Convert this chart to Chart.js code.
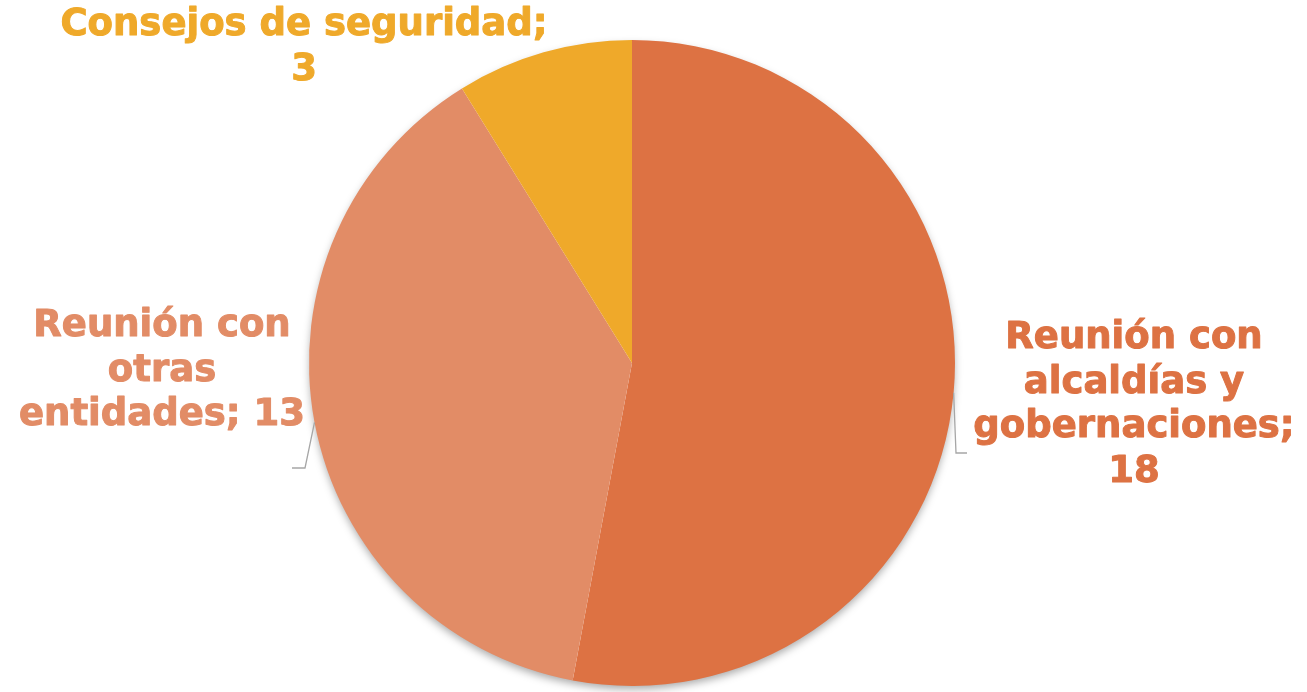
<!DOCTYPE html>
<html lang="es">
<head>
<meta charset="UTF-8">
<title>Pie</title>
<script src="https://cdn.jsdelivr.net/npm/chart.js"></script>
<style>
  * { margin: 0; padding: 0; box-sizing: border-box; }
  body { width: 1307px; height: 692px; background: #ffffff; overflow: hidden; }
  #wrap { width: 1307px; height: 692px; position: relative; }
</style>
</head>
<body>
<div id="wrap"><canvas id="chart"></canvas></div>
<script>
  // datos
  const categories = ['Reunión con alcaldías y gobernaciones', 'Reunión con otras entidades', 'Consejos de seguridad'];
  const values = [18, 13, 3];
  const labelLines = [
    ['Reunión con', 'alcaldías y', 'gobernaciones;', '18'],
    ['Reunión con', 'otras', 'entidades; 13'],
    ['Consejos de seguridad;', '3']
  ];
  const colors = ['#DD7243', '#E28C66', '#EFA92A'];

  // posición de las etiquetas (centro x, línea base de la primera línea) y codo de la línea guía
  const labelPos = [
    { x: 1134, y: 348, elbow: [956, 453], end: [967, 453] },
    { x: 162, y: 336, elbow: [305, 468], end: [292, 468] },
    { x: 304, y: 35, elbow: null, end: null }
  ];

  const shadowPlugin = {
    id: 'pieShadow',
    beforeDatasetsDraw(chart) {
      const arc = chart.getDatasetMeta(0).data[0];
      if (!arc) return;
      const ctx = chart.ctx;
      ctx.save();
      ctx.shadowColor = 'rgba(0,0,0,0.35)';
      ctx.shadowBlur = 9;
      ctx.shadowOffsetY = 4;
      ctx.fillStyle = '#ffffff';
      ctx.beginPath();
      ctx.arc(arc.x, arc.y, arc.outerRadius - 1, 0, Math.PI * 2);
      ctx.fill();
      ctx.restore();
    }
  };

  const labelPlugin = {
    id: 'pieLabels',
    afterDatasetsDraw(chart) {
      const ctx = chart.ctx;
      const meta = chart.getDatasetMeta(0);
      ctx.save();
      meta.data.forEach((arc, i) => {
        const p = labelPos[i];
        if (p.elbow) {
          const mid = (arc.startAngle + arc.endAngle) / 2;
          const sx = arc.x + Math.cos(mid) * arc.outerRadius;
          const sy = arc.y + Math.sin(mid) * arc.outerRadius;
          ctx.strokeStyle = '#a6a6a6';
          ctx.lineWidth = 1.3;
          ctx.beginPath();
          ctx.moveTo(sx, sy);
          ctx.lineTo(p.elbow[0], p.elbow[1]);
          ctx.lineTo(p.end[0], p.end[1]);
          ctx.stroke();
        }
        ctx.fillStyle = colors[i];
        ctx.strokeStyle = colors[i];
        ctx.lineWidth = 1;
        ctx.lineJoin = 'round';
        ctx.font = 'bold 37px "DejaVu Sans", Verdana, sans-serif';
        ctx.textAlign = 'center';
        ctx.textBaseline = 'alphabetic';
        labelLines[i].forEach((line, j) => {
          ctx.fillText(line, p.x, p.y + j * 44.7);
          ctx.strokeText(line, p.x, p.y + j * 44.7);
        });
      });
      ctx.restore();
    }
  };

  new Chart(document.getElementById('chart'), {
    type: 'pie',
    data: {
      labels: categories,
      datasets: [{
        data: values,
        backgroundColor: colors,
        borderWidth: 0,
        hoverOffset: 0
      }]
    },
    options: {
      responsive: true,
      maintainAspectRatio: false,
      animation: false,
      layout: { padding: { top: 40, bottom: 6, left: 0, right: 43 } },
      plugins: {
        legend: { display: false },
        tooltip: { enabled: false },
        title: { display: false }
      }
    },
    plugins: [shadowPlugin, labelPlugin]
  });
</script>
</body>
</html>
